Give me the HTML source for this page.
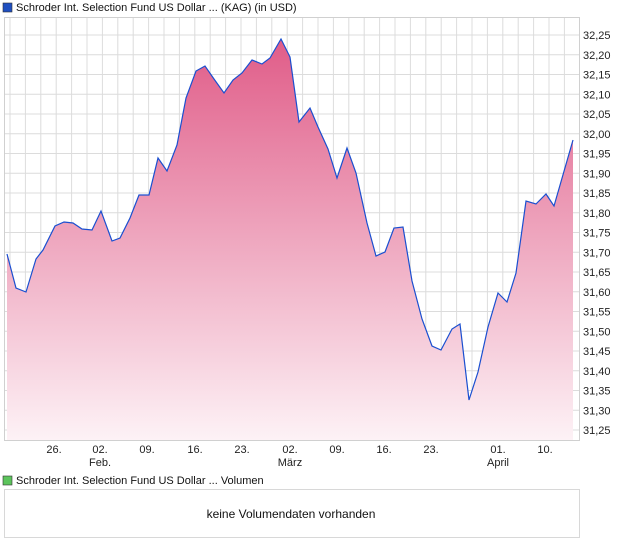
<!DOCTYPE html>
<html><head><meta charset="utf-8"><style>
body{margin:0;background:#fff;font-family:"Liberation Sans",sans-serif;}
</style></head><body>
<svg width="620" height="546" xmlns="http://www.w3.org/2000/svg" font-family="Liberation Sans, sans-serif">
<defs>
<linearGradient id="f" gradientUnits="userSpaceOnUse" x1="0" y1="38" x2="0" y2="441">
<stop offset="0" stop-color="#e05c88"/><stop offset="1" stop-color="#fdf2f6"/>
</linearGradient>
</defs>
<rect x="3" y="3" width="9" height="9" fill="#1f4fc0" stroke="#333" stroke-width="0.6"/>
<text x="16" y="11" font-size="11" fill="#111">Schroder Int. Selection Fund US Dollar ... (KAG) (in USD)</text>
<g stroke="#dcdcdc" stroke-width="1" id="grid"></g>
<rect x="4.5" y="17.5" width="575" height="423" fill="none" stroke="#d0d0d0"/>
<path id="area" fill="url(#f)"/>
<polyline id="ln" fill="none" stroke="#1a4fd0" stroke-width="1.2"/>
<g id="lab" font-size="11" fill="#222"></g>
<rect x="3" y="476" width="9" height="9" fill="#5cc45c" stroke="#333" stroke-width="0.6"/>
<text x="16" y="484" font-size="11" fill="#111">Schroder Int. Selection Fund US Dollar ... Volumen</text>
<rect x="4.5" y="489.5" width="575" height="48" fill="none" stroke="#d8d8d8"/>
<text x="291" y="518" font-size="12" fill="#111" text-anchor="middle">keine Volumendaten vorhanden</text>
</svg>
<script>
const ns="http://www.w3.org/2000/svg";
const g=document.getElementById('grid'),lab=document.getElementById('lab');
function el(p,t,a,txt){const e=document.createElementNS(ns,t);for(const k in a)e.setAttribute(k,a[k]);if(txt)e.textContent=txt;p.appendChild(e);return e;}
for(let x=10;x<579;x+=15.4)el(g,'line',{x1:x,y1:18,x2:x,y2:440});
for(let i=0;i<=20;i++){const v=32.25-i*0.05,y=35+i*19.75;el(g,'line',{x1:5,y1:y,x2:579,y2:y});
el(lab,'text',{x:583,y:y+4},v.toFixed(2).replace('.',','));}
const ticks=[[54,'26.'],[100,'02.'],[147,'09.'],[195,'16.'],[242,'23.'],[290,'02.'],[337,'09.'],[384,'16.'],[431,'23.'],[498,'01.'],[545,'10.']];
ticks.forEach(t=>el(lab,'text',{x:t[0],y:453,'text-anchor':'middle'},t[1]));
[[100,'Feb.'],[290,'März'],[498,'April']].forEach(t=>el(lab,'text',{x:t[0],y:466,'text-anchor':'middle'},t[1]));
const p=[[7,254],[16,288],[26,292],[36,259],[43,250],[55,226],[64,222],[73,223],[82,229],[92,230],[101,211],[112,241],[120,238],[130,218],[139,195],[149,195],[158,158],[167,171],[177,145],[186,98],[196,71],[205,66],[214,79],[224,93],[233,80],[242,73],[252,60],[262,64],[270,58],[281,39],[290,57],[299,122],[310,108],[318,127],[328,149],[337,178],[347,148],[356,173],[367,223],[376,256],[385,252],[394,228],[403,227],[412,281],[422,319],[432,346],[441,350],[452,329],[460,324],[469,400],[478,372],[488,327],[498,293],[507,302],[516,273],[526,201],[536,204],[546,194],[554,206],[573,140]];
const s=p.map(q=>q.join(',')).join(' ');
document.getElementById('ln').setAttribute('points',s);
document.getElementById('area').setAttribute('d','M'+p[0][0]+',440 L'+s.replace(/ /g,' L')+' L573,440 Z');
</script>
</body></html>
